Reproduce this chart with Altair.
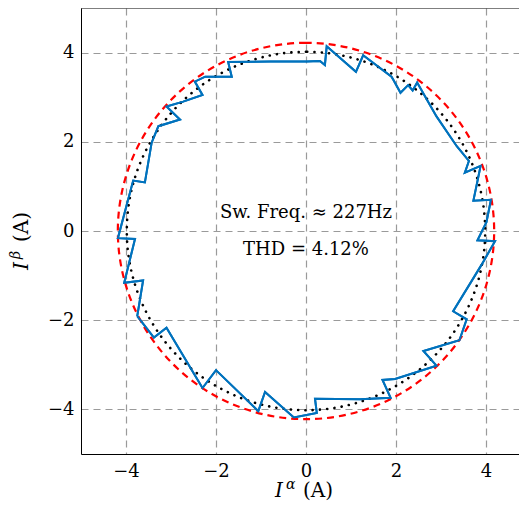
import altair as alt
import pandas as pd

# Blue measured current trajectory (I_alpha, I_beta) in A, traced clockwise
i_alpha = [-3.75, -3.62, -4.04, -3.80, -4.18, -3.84, -3.58, -3.43, -3.28, -2.80,
           -3.10, -2.73, -2.30, -2.47, -2.24, -1.65, -1.73, -0.80, 0.01, 0.31,
           0.42, 0.46, 1.11, 1.27, 1.90, 1.94, 2.10, 2.27, 2.37, 2.47,
           2.90, 3.35, 3.62, 3.53, 3.88, 3.72, 4.11, 4.01, 3.81, 4.20,
           3.90, 3.27, 3.57, 3.41, 2.61, 2.90, 1.98, 1.70, 1.88, 1.20,
           0.20, 0.24, -0.27, -0.91, -1.06, -2.00, -2.30, -3.10, -3.38, -3.75]
i_beta = [-1.91, -1.11, -1.16, -0.18, -0.16, 1.13, 1.09, 1.98, 2.35, 2.50,
          2.79, 2.90, 3.05, 3.35, 3.46, 3.46, 3.79, 3.80, 3.80, 3.81,
          3.72, 4.14, 3.57, 3.94, 3.46, 3.39, 3.10, 3.27, 3.15, 3.33,
          2.57, 1.90, 1.57, 1.31, 1.46, 0.68, 0.70, 0.20, -0.21, -0.23,
          -0.76, -1.80, -1.98, -2.45, -2.69, -3.02, -3.32, -3.34, -3.74, -3.77,
          -3.76, -4.08, -4.18, -3.61, -4.04, -3.12, -3.52, -2.17, -2.39, -1.91]

# Reference circles (radius in A)
ref_radius_red = 4.2
ref_radius_dotted = 4.0

tick_values = [-4, -2, 0, 2, 4]
annot_lines = ["Sw. Freq. \u2248 227Hz", "THD = 4.12%"]
annot_y = [0.30, -0.53]

FONT = "DejaVu Serif"

df = pd.DataFrame({"ia": i_alpha, "ib": i_beta, "i": list(range(len(i_alpha)))})
one = pd.DataFrame({"k": [0]})

xscale = alt.Scale(domain=[-5, 4.7333], nice=False, zero=False)
yscale = alt.Scale(domain=[-5, 5], nice=False, zero=False)

line = alt.Chart(df).mark_line(color="#0072BD", strokeWidth=2).encode(
    x=alt.X("ia:Q", scale=xscale,
            axis=alt.Axis(values=tick_values, title=None, grid=True, ticks=False,
                          labelPadding=8)),
    y=alt.Y("ib:Q", scale=yscale,
            axis=alt.Axis(values=tick_values, title=None, grid=True, ticks=False,
                          labelPadding=7)),
    order="i:Q",
)

rscale = alt.Scale(type="linear", domain=[0, 5], range=[0, 224], zero=True)

red_circle = alt.Chart(one).mark_arc(
    filled=False, stroke="#ff0000", strokeWidth=2.2, strokeDash=[7, 5], theta=6.2832
).encode(
    x=alt.X(datum=0), y=alt.Y(datum=0),
    radius=alt.Radius(datum=ref_radius_red, scale=rscale),
)

dot_circle = alt.Chart(one).mark_arc(
    filled=False, stroke="black", strokeWidth=2.6, strokeDash=[0.1, 7.2],
    strokeCap="round", theta=6.2832
).encode(
    x=alt.X(datum=0), y=alt.Y(datum=0),
    radius=alt.Radius(datum=ref_radius_dotted, scale=rscale),
)

top_border = alt.Chart(one).mark_rule(color="black", strokeWidth=1).encode(
    y=alt.Y(datum=5)
)

annots = []
for txt, yy in zip(annot_lines, annot_y):
    annots.append(
        alt.Chart(one).mark_text(font=FONT, fontSize=18, align="center",
                                 baseline="alphabetic", color="black").encode(
            x=alt.X(datum=0), y=alt.Y(datum=yy), text=alt.value(txt)
        )
    )

def piece(txt, x, y, size, italic=False, angle=0):
    kw = dict(font=FONT, fontSize=size, align="left", baseline="alphabetic",
              color="black")
    if italic:
        kw["fontStyle"] = "italic"
    if angle:
        kw["angle"] = angle
    return alt.Chart(one).mark_text(**kw).encode(
        x=alt.value(x), y=alt.value(y), text=alt.value(txt)
    )

# axis titles I^alpha (A) and I^beta (A)
xtitle = [
    piece("I", 194, 489, 20, italic=True),
    piece("\u03b1", 205, 481, 14, italic=True),
    piece("(A)", 222, 489, 20),
]
ytitle = [
    piece("I", -53, 262, 20, italic=True, angle=270),
    piece("\u03b2", -61, 251, 14, italic=True, angle=270),
    piece("(A)", -53, 234, 20, angle=270),
]

chart = alt.layer(
    line, red_circle, dot_circle, line, top_border, *annots, *xtitle, *ytitle
).properties(
    width=438, height=446,
    autosize=alt.AutoSizeParams(type="none"),
    padding={"left": 73, "top": 0, "right": 0, "bottom": 48},
).configure_view(strokeWidth=0).configure_axis(
    labelFont=FONT, labelFontSize=18, labelColor="black",
    domainColor="black", domainWidth=1,
    gridColor="#9a9a9a", gridDash=[7, 5], gridWidth=1.2,
)

chart.save("out.html", embed_options={"renderer": "svg", "actions": False})
